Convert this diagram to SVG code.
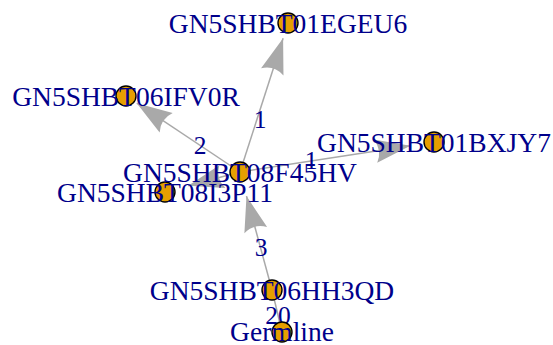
<svg xmlns="http://www.w3.org/2000/svg" width="553" height="345" viewBox="0 0 553 345">
<style>
.edge{stroke:#A9A9A9;stroke-width:1.5;fill:none}
.elab{font-family:"Liberation Serif",serif;font-size:25.5px;fill:#00008B;text-anchor:middle}
.node{fill:#E69F00;stroke:#000;stroke-width:1.4}
.nlab{font-family:"Liberation Serif",serif;font-size:27.5px;fill:#00008B;text-anchor:middle}
</style>
<defs>
<marker id="arr" markerUnits="userSpaceOnUse" markerWidth="40" markerHeight="30" viewBox="-32 -12 34 24" refX="0" refY="0" orient="auto" overflow="visible">
<path d="M0,0 L-30,-10 Q-24,0 -30,10 Z" fill="#A9A9A9"/>
</marker>
</defs>
<rect width="553" height="345" fill="#fff"/>
<g id="edges">
<line class="edge" x1="240" y1="172" x2="283.1" y2="38.2" marker-end="url(#arr)"/>
<line class="edge" x1="240" y1="172" x2="136.8" y2="103.2" marker-end="url(#arr)"/>
<line class="edge" x1="240" y1="172" x2="410.3" y2="145.7" marker-end="url(#arr)"/>
<line class="edge" x1="240" y1="172" x2="188.2" y2="185.8" marker-end="url(#arr)"/>
<line class="edge" x1="272" y1="290" x2="246.5" y2="196.1" marker-end="url(#arr)"/>
<line class="edge" x1="282" y1="332" x2="272" y2="290"/>
<text class="elab" x="260" y="128">1</text>
<text class="elab" x="200" y="154">2</text>
<text class="elab" x="311" y="169">1</text>
<text class="elab" x="261" y="256">3</text>
<text class="elab" x="278" y="324">20</text>
</g>
<g id="n-EGEU6"><circle class="node" cx="288" cy="23" r="10"/><text class="nlab" x="288" y="32.5">GN5SHBT01EGEU6</text></g>
<g id="n-IFV0R"><circle class="node" cx="126" cy="96" r="10"/><text class="nlab" x="126" y="105.5">GN5SHBT06IFV0R</text></g>
<g id="n-BXJY7"><circle class="node" cx="434" cy="142" r="10"/><text class="nlab" x="434" y="151.5">GN5SHBT01BXJY7</text></g>
<g id="n-08I3P11"><circle class="node" cx="165" cy="192" r="10"/><text class="nlab" x="165" y="201.5">GN5SHBT08I3P11</text></g>
<g id="n-08F45HV"><circle class="node" cx="240" cy="172" r="10"/><text class="nlab" x="240" y="181.5">GN5SHBT08F45HV</text></g>
<g id="n-06HH3QD"><circle class="node" cx="272" cy="290" r="10"/><text class="nlab" x="272" y="299.5">GN5SHBT06HH3QD</text></g>
<g id="n-Germline"><circle class="node" cx="282" cy="332" r="10"/><text class="nlab" x="282" y="340.5">Germline</text></g>
</svg>
